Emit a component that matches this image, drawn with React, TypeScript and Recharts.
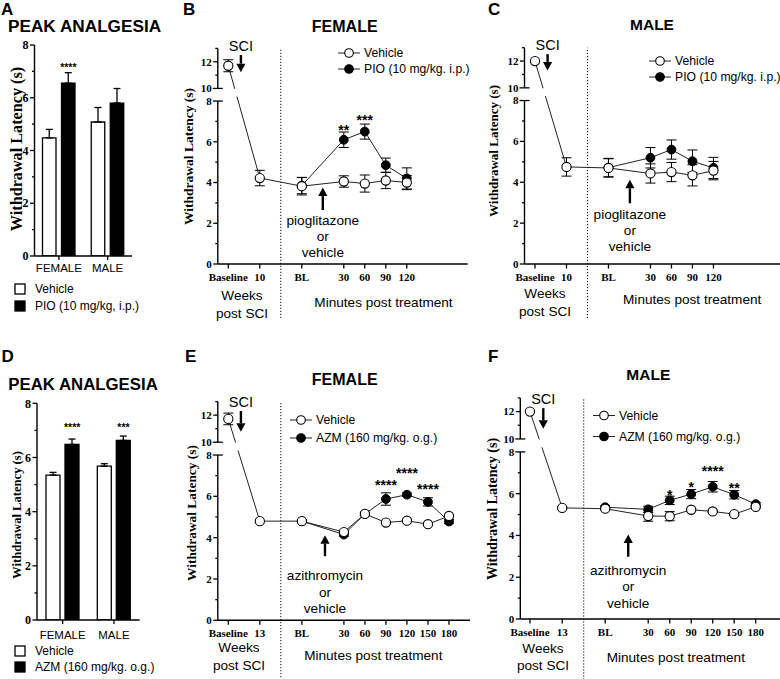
import React from 'react';
import {
  ComposedChart,
  LineChart,
  Bar,
  Line,
  XAxis,
  YAxis,
  ErrorBar,
  LabelList,
  Legend,
  ReferenceLine,
} from 'recharts';

const SANS = '"Liberation Sans", Arial, Helvetica, sans-serif';
const SERIF = '"Liberation Serif", "Times New Roman", Times, serif';
const INK = '#000';

// ---------------- Panel A: peak analgesia, pioglitazone ----------------
const sexCategories = ['FEMALE', 'MALE'];
const pioPeakVehicle = [4.48, 5.08];
const pioPeakVehicleErr = [0.32, 0.55];
const pioPeakDrug = [6.55, 5.8];
const pioPeakDrugErr = [0.4, 0.55];
const pioPeakStars = ['****', ''];
const pioPeakStarLevel = [7.25, null];

// ---------------- Panel D: peak analgesia, azithromycin ----------------
const azmPeakVehicle = [5.35, 5.68];
const azmPeakVehicleErr = [0.1, 0.09];
const azmPeakDrug = [6.48, 6.63];
const azmPeakDrugErr = [0.2, 0.16];
const azmPeakStars = ['****', '***'];
const azmPeakStarLevel = [7.21, 7.21];

// ---------------- time axes ----------------
const pioTimeLabels = ['Baseline', '10', 'BL', '30', '60', '90', '120'];
const pioTimeSlots = [0, 1.5, 3.5, 5.5, 6.5, 7.5, 8.5];
const azmTimeLabels = ['Baseline', '13', 'BL', '30', '60', '90', '120', '150', '180'];
const azmTimeSlots = [0, 1.5, 3.5, 5.5, 6.5, 7.5, 8.5, 9.5, 10.5];

// ---------------- Panel B: female, PIO ----------------
const pioFemaleVehicle = [11.7, 4.22, 3.82, 4.05, 3.95, 4.1, 4.0];
const pioFemaleVehicleErr = [0.45, 0.38, 0.43, 0.28, 0.42, 0.4, 0.35];
const pioFemaleDrug = [null, null, 3.85, 6.1, 6.5, 4.85, 4.2];
const pioFemaleDrugErr = [null, null, 0.4, 0.38, 0.37, 0.35, 0.52];
const pioFemaleStars = ['', '', '', '**', '***', '', ''];
const pioFemaleStarLevel = [null, null, null, 6.74, 7.22, null, null];

// ---------------- Panel C: male, PIO ----------------
const pioMaleVehicle = [12.0, 4.75, 4.7, 4.43, 4.5, 4.34, 4.57];
const pioMaleVehicleErr = [0, 0.45, 0.45, 0.47, 0.47, 0.52, 0.45];
const pioMaleDrug = [null, null, 4.72, 5.2, 5.6, 5.03, 4.7];
const pioMaleDrugErr = [null, null, 0.45, 0.5, 0.47, 0.55, 0.52];
const pioMaleStars = ['', '', '', '', '', '', ''];
const pioMaleStarLevel = [null, null, null, null, null, null, null];

// ---------------- Panel E: female, AZM ----------------
const azmFemaleVehicle = [11.72, 4.8, 4.8, 4.27, 5.15, 4.73, 4.82, 4.65, 5.05];
const azmFemaleVehicleErr = [0.43, 0, 0, 0.08, 0.05, 0.05, 0.05, 0.05, 0.05];
const azmFemaleDrug = [null, null, 4.8, 4.15, 5.15, 5.87, 6.08, 5.73, 4.78];
const azmFemaleDrugErr = [null, null, 0.05, 0.08, 0.08, 0.3, 0.08, 0.2, 0.1];
const azmFemaleStars = ['', '', '', '', '', '****', '****', '****', ''];
const azmFemaleStarLevel = [null, null, null, null, null, 6.71, 7.27, 6.5, null];

// ---------------- Panel F: male, AZM ----------------
const azmMaleVehicle = [12.0, 5.32, 5.28, 4.93, 4.92, 5.23, 5.15, 5.02, 5.37];
const azmMaleVehicleErr = [0, 0.05, 0.05, 0.25, 0.22, 0.05, 0.05, 0.05, 0.05];
const azmMaleDrug = [null, null, 5.35, 5.25, 5.68, 5.98, 6.33, 5.95, 5.5];
const azmMaleDrugErr = [null, null, 0.07, 0.15, 0.2, 0.22, 0.25, 0.2, 0.07];
const azmMaleStars = ['', '', '', '', '*', '*', '****', '**', ''];
const azmMaleStarLevel = [null, null, null, null, 6.09, 6.46, 7.21, 6.41, null];

// ---------------- broken y axis (0–8 | 10–13) ----------------
const GAP = 0.62;
const UPPER_K = 0.655;
const Y_TOP = 13;
const Y_TICKS = [0, 1, 2, 3, 4, 5, 6, 7, 8, 10, 11, 12, 13];
const LINE_BREAK_HI = 8.6; // axis units where the drawn line is interrupted
const LINE_BREAK_LO = 8.22;

function toAxis(v: number): number {
  if (v >= 10) return 8 + GAP + (v - 10) * UPPER_K;
  if (v > 8) return 8 + ((v - 8) / 2) * GAP;
  return v;
}
function fromAxis(t: number): number {
  if (t >= 8 + GAP - 1e-9) return 10 + (t - 8 - GAP) / UPPER_K;
  if (t > 8) return 8 + ((t - 8) / GAP) * 2;
  return t;
}
function errPair(v: number | null, e: number | null) {
  if (v == null || !e) return null;
  return [toAxis(v) - toAxis(v - e), toAxis(v + e) - toAxis(v)];
}

type Box = { left: number; top: number; width: number; height: number };
type Plot = { l: number; r: number; t: number; b: number };

function marginFor(box: Box, plot: Plot, yW: number, xH: number) {
  return {
    left: plot.l - box.left - yW,
    right: box.left + box.width - plot.r,
    top: plot.t - box.top,
    bottom: box.top + box.height - plot.b - xH,
  };
}

// ---------------- tick renderers ----------------
const BrokenYTick = (props: any) => {
  const { x, y, payload } = props;
  const v = Math.round(fromAxis(payload.value));
  const major = v % 2 === 0;
  const brk = v === 8 || v === 10;
  const len = brk ? 5 : major ? 4.5 : 2.5;
  return (
    <g>
      <line x1={x - len} x2={x + (brk ? 5 : 0)} y1={y} y2={y} stroke={INK} strokeWidth={1.3} />
      {major && (
        <text x={x - 6} y={y} dy="0.35em" textAnchor="end" fontFamily={SERIF} fontWeight="bold" fontSize={11} fill={INK}>
          {v}
        </text>
      )}
    </g>
  );
};

const PlainYTick = (props: any) => {
  const { x, y, payload } = props;
  const v = Math.round(payload.value);
  const major = v % 2 === 0;
  return (
    <g>
      <line x1={x - (major ? 4.5 : 2.5)} x2={x} y1={y} y2={y} stroke={INK} strokeWidth={1.3} />
      {major && (
        <text x={x - 6} y={y} dy="0.35em" textAnchor="end" fontFamily={SERIF} fontWeight="bold" fontSize={12} fill={INK}>
          {v}
        </text>
      )}
    </g>
  );
};

const makeTimeTick = (labels: string[], slots: number[]) => (props: any) => {
  const { x, y, payload } = props;
  const i = slots.findIndex((s) => Math.abs(s - payload.value) < 1e-6);
  return (
    <g>
      <line x1={x} x2={x} y1={y} y2={y + 4.5} stroke={INK} strokeWidth={1.3} />
      <text x={x} y={y + 17} textAnchor="middle" fontFamily={SERIF} fontWeight="bold" fontSize={11} fill={INK}>
        {i >= 0 ? labels[i] : ''}
      </text>
    </g>
  );
};

const makeSexTick = (dy: number) => (props: any) => {
  const { x, y, payload } = props;
  return (
    <g>
      <line x1={x} x2={x} y1={y} y2={y + 4} stroke={INK} strokeWidth={1.3} />
      <text x={x} y={y + dy} textAnchor="middle" fontFamily={SANS} fontSize={11.5} fill={INK}>
        {payload.value}
      </text>
    </g>
  );
};

const starContent = (fontSize: number, dx: number) => (p: any) => {
  const { x, y, value } = p;
  if (!value || y == null || x == null) return null;
  return (
    <text x={x + dx} y={y + fontSize * 0.575} textAnchor="middle" fontFamily={SANS} fontWeight="bold" fontSize={fontSize} fill={INK}>
      {value}
    </text>
  );
};

const arrowShape =
  (lines: string[], textPos: 'above' | 'below', dy0: number, lineH: number) => (p: any) => {
    const { x1, y1, x2, y2 } = p;
    if ([x1, y1, x2, y2].some((v) => v == null || Number.isNaN(v))) return <g />;
    const dir = Math.sign(y2 - y1) || 1;
    const head = 8.5;
    const hw = 4.6;
    const shaftEnd = y2 - dir * head;
    return (
      <g>
        <line x1={x1} y1={y1} x2={x1} y2={shaftEnd} stroke={INK} strokeWidth={2.4} />
        <polygon points={`${x2 - hw},${shaftEnd} ${x2 + hw},${shaftEnd} ${x2},${y2}`} fill={INK} />
        {lines.map((t, i) => (
          <text
            key={i}
            x={x1}
            y={textPos === 'above' ? y1 - dy0 - i * lineH : y1 + dy0 + i * lineH}
            textAnchor="middle"
            fontFamily={SANS}
            fontSize={textPos === 'above' ? 14.5 : 13.6}
            fill={INK}
          >
            {t}
          </text>
        ))}
      </g>
    );
  };

// connector from the pre-injury point (upper axis segment) to the first post-injury point,
// interrupted where the axis is broken
const brokenConnector = (sa: number, sb: number, trim: number) => (p: any) => {
  const { x1, y1, x2, y2 } = p;
  if ([x1, y1, x2, y2].some((v) => v == null || Number.isNaN(v))) return <g />;
  const dx = x2 - x1;
  const dy = y2 - y1;
  const len = Math.hypot(dx, dy) || 1;
  const ux = dx / len;
  const uy = dy / len;
  const ax = x1 + dx * sa;
  const ay = y1 + dy * sa;
  const bx = x1 + dx * sb;
  const by = y1 + dy * sb;
  return (
    <g>
      <line x1={x1 + ux * trim} y1={y1 + uy * trim} x2={ax} y2={ay} stroke="#222" strokeWidth={1} />
      <line x1={bx} y1={by} x2={x2 - ux * trim} y2={y2 - uy * trim} stroke="#222" strokeWidth={1} />
    </g>
  );
};

const lineLegend = (rowH: number, fontSize: number) => (props: any) => {
  const items = [...(props.payload || [])]
    .filter((it: any) => it.dataKey === 'veh' || it.dataKey === 'drug')
    .sort((a: any, b: any) => (a.dataKey === 'veh' ? -1 : 1) - (b.dataKey === 'veh' ? -1 : 1));
  return (
    <div style={{ fontFamily: SANS, fontSize, whiteSpace: 'nowrap', color: INK }}>
      {items.map((it: any) => (
        <div key={it.dataKey} style={{ display: 'flex', alignItems: 'center', height: rowH }}>
          <svg width={22} height={rowH} style={{ display: 'block' }}>
            <line x1={0} x2={22} y1={rowH / 2} y2={rowH / 2} stroke="#222" strokeWidth={1} />
            <circle cx={11} cy={rowH / 2} r={4.3} fill={it.dataKey === 'veh' ? '#fff' : INK} stroke={INK} strokeWidth={1.1} />
          </svg>
          <span style={{ marginLeft: 4 }}>{it.value}</span>
        </div>
      ))}
    </div>
  );
};

const barLegend = (rowH: number, fontSize: number) => (props: any) => {
  const items = [...(props.payload || [])]
    .filter((it: any) => it.dataKey === 'veh' || it.dataKey === 'drug')
    .sort((a: any, b: any) => (a.dataKey === 'veh' ? -1 : 1) - (b.dataKey === 'veh' ? -1 : 1));
  return (
    <div style={{ fontFamily: SANS, fontSize, whiteSpace: 'nowrap', color: INK }}>
      {items.map((it: any) => (
        <div key={it.dataKey} style={{ display: 'flex', alignItems: 'center', height: rowH }}>
          <svg width={12} height={12} style={{ display: 'block' }}>
            <rect x={1} y={1} width={10} height={10} fill={it.dataKey === 'veh' ? '#fff' : INK} stroke={INK} strokeWidth={1.3} />
          </svg>
          <span style={{ marginLeft: 9 }}>{it.value}</span>
        </div>
      ))}
    </div>
  );
};

// ---------------- bar panel ----------------
type PeakProps = {
  box: Box;
  plot: Plot;
  categories: string[];
  vehicle: number[];
  vehicleErr: number[];
  drug: number[];
  drugErr: number[];
  stars: string[];
  starLevels: (number | null)[];
  drugName: string;
  legendPos: { left: number; top: number; rowH: number };
  barSize: number;
  barGap: number;
  xLabelDy: number;
};

function PeakPanel(p: PeakProps) {
  const data = p.categories.map((c, i) => ({
    sex: c,
    veh: p.vehicle[i],
    vehErr: [0, p.vehicleErr[i]],
    drug: p.drug[i],
    drugErr: [0, p.drugErr[i]],
    stars: p.stars[i],
    starY: p.starLevels[i],
  }));
  const YW = 30;
  const XH = 25;
  return (
    <div style={{ position: 'absolute', left: p.box.left, top: p.box.top }}>
      <ComposedChart
        width={p.box.width}
        height={p.box.height}
        data={data}
        margin={marginFor(p.box, p.plot, YW, XH)}
        barGap={p.barGap}
        barSize={p.barSize}
      >
        <XAxis
          dataKey="sex"
          type="category"
          height={XH}
          tickSize={0}
          tickMargin={0}
          tickLine={false}
          interval={0}
          axisLine={{ stroke: INK, strokeWidth: 1.4 }}
          tick={makeSexTick(p.xLabelDy)}
        />
        <YAxis
          type="number"
          domain={[0, 8]}
          allowDataOverflow
          ticks={[0, 1, 2, 3, 4, 5, 6, 7, 8]}
          interval={0}
          width={YW}
          tickSize={0}
          tickMargin={0}
          tickLine={false}
          axisLine={{ stroke: INK, strokeWidth: 1.4 }}
          tick={PlainYTick}
        />
        <Bar dataKey="veh" name="Vehicle" fill="#fff" stroke={INK} strokeWidth={1.3} isAnimationActive={false}>
          <ErrorBar dataKey="vehErr" direction="y" width={3.5} stroke={INK} strokeWidth={1.3} />
        </Bar>
        <Bar dataKey="drug" name={p.drugName} fill={INK} stroke={INK} strokeWidth={1.3} isAnimationActive={false}>
          <ErrorBar dataKey="drugErr" direction="y" width={3.5} stroke={INK} strokeWidth={1.3} />
        </Bar>
        <Line dataKey="starY" stroke="none" dot={false} activeDot={false} legendType="none" isAnimationActive={false}>
          <LabelList dataKey="stars" content={starContent(10.5, (p.barSize + p.barGap) / 2)} />
        </Line>
        <Legend
          layout="vertical"
          align="center"
          verticalAlign="middle"
          wrapperStyle={{ left: p.legendPos.left, top: p.legendPos.top, width: 'auto', height: 'auto' }}
          content={barLegend(p.legendPos.rowH, 12)}
        />
      </ComposedChart>
    </div>
  );
}

// ---------------- time-course panel ----------------
type TCProps = {
  box: Box;
  plot: Plot;
  xDomain: [number, number];
  labels: string[];
  slots: number[];
  vehicle: number[];
  vehicleErr: number[];
  drug: (number | null)[];
  drugErr: (number | null)[];
  stars: string[];
  starLevels: (number | null)[];
  drugName: string;
  legendPos: { left: number; top: number; rowH: number };
  sci: { x: number; from: number; to: number };
  treat: { x: number; from: number; to: number; dy0: number; lineH: number };
  treatLines: string[];
  dottedBottom: number;
};

function TimeCourse(p: TCProps) {
  const data = p.slots.map((s, i) => ({
    slot: s,
    vehPre: i === 0 ? toAxis(p.vehicle[i]) : null,
    vehPreErr: i === 0 ? errPair(p.vehicle[i], p.vehicleErr[i]) : null,
    veh: i === 0 ? null : toAxis(p.vehicle[i]),
    vehErr: i === 0 ? null : errPair(p.vehicle[i], p.vehicleErr[i]),
    drug: p.drug[i] == null ? null : toAxis(p.drug[i] as number),
    drugErr: errPair(p.drug[i], p.drugErr[i]),
    stars: p.stars[i],
    starY: p.starLevels[i],
  }));
  const YW = 30;
  const XH = 25;
  const yTop = toAxis(Y_TOP);
  const x0 = p.xDomain[0];
  const t0 = toAxis(p.vehicle[0]);
  const t1 = toAxis(p.vehicle[1]);
  const sa = (t0 - LINE_BREAK_HI) / (t0 - t1);
  const sb = (t0 - LINE_BREAK_LO) / (t0 - t1);
  return (
    <div style={{ position: 'absolute', left: p.box.left, top: p.box.top }}>
      <LineChart width={p.box.width} height={p.box.height} data={data} margin={marginFor(p.box, p.plot, YW, XH)}>
        <XAxis
          type="number"
          dataKey="slot"
          domain={p.xDomain}
          allowDataOverflow
          ticks={p.slots}
          interval={0}
          height={XH}
          tickSize={0}
          tickMargin={0}
          tickLine={false}
          axisLine={{ stroke: INK, strokeWidth: 1.4 }}
          tick={makeTimeTick(p.labels, p.slots)}
        />
        <YAxis
          type="number"
          domain={[0, yTop]}
          allowDataOverflow
          ticks={Y_TICKS.map(toAxis)}
          interval={0}
          width={YW}
          tickSize={0}
          tickMargin={0}
          tickLine={false}
          axisLine={false}
          tick={BrokenYTick}
        />
        <ReferenceLine
          segment={[{ x: x0, y: 0 }, { x: x0, y: 8 }]}
          stroke={INK}
          strokeWidth={1.4}
          ifOverflow="visible"
        />
        <ReferenceLine
          segment={[{ x: x0, y: toAxis(10) }, { x: x0, y: yTop }]}
          stroke={INK}
          strokeWidth={1.4}
          ifOverflow="visible"
        />
        <ReferenceLine
          segment={[{ x: 2.5, y: p.dottedBottom }, { x: 2.5, y: yTop }]}
          stroke={INK}
          strokeWidth={1}
          strokeDasharray="1.2 1.8"
          ifOverflow="visible"
        />
        <ReferenceLine
          segment={[{ x: p.slots[0], y: t0 }, { x: p.slots[1], y: t1 }]}
          ifOverflow="visible"
          shape={brokenConnector(sa, sb, 4.6)}
        />
        <Line
          dataKey="drug"
          name={p.drugName}
          stroke="#222"
          strokeWidth={1}
          dot={{ r: 4.4, fill: INK, stroke: INK, strokeWidth: 1 }}
          activeDot={false}
          isAnimationActive={false}
        >
          <ErrorBar dataKey="drugErr" direction="y" width={5} stroke={INK} strokeWidth={1} />
        </Line>
        <Line
          dataKey="vehPre"
          name="Vehicle pre"
          legendType="none"
          stroke="#222"
          strokeWidth={1}
          dot={{ r: 4.6, fill: '#fff', stroke: INK, strokeWidth: 1.1 }}
          activeDot={false}
          isAnimationActive={false}
        >
          <ErrorBar dataKey="vehPreErr" direction="y" width={5} stroke={INK} strokeWidth={1} />
        </Line>
        <Line
          dataKey="veh"
          name="Vehicle"
          stroke="#222"
          strokeWidth={1}
          dot={{ r: 4.6, fill: '#fff', stroke: INK, strokeWidth: 1.1 }}
          activeDot={false}
          isAnimationActive={false}
        >
          <ErrorBar dataKey="vehErr" direction="y" width={5} stroke={INK} strokeWidth={1} />
        </Line>
        <Line dataKey="starY" stroke="none" dot={false} activeDot={false} legendType="none" isAnimationActive={false}>
          <LabelList dataKey="stars" content={starContent(14, 0)} />
        </Line>
        <ReferenceLine
          segment={[{ x: p.sci.x, y: toAxis(p.sci.from) }, { x: p.sci.x, y: toAxis(p.sci.to) }]}
          ifOverflow="visible"
          shape={arrowShape(['SCI'], 'above', 4.5, 16)}
        />
        <ReferenceLine
          segment={[{ x: p.treat.x, y: p.treat.from }, { x: p.treat.x, y: p.treat.to }]}
          ifOverflow="visible"
          shape={arrowShape(p.treatLines, 'below', p.treat.dy0, p.treat.lineH)}
        />
        <Legend
          layout="vertical"
          align="center"
          verticalAlign="middle"
          wrapperStyle={{ left: p.legendPos.left, top: p.legendPos.top, width: 'auto', height: 'auto' }}
          content={lineLegend(p.legendPos.rowH, 12.2)}
        />
      </LineChart>
    </div>
  );
}

const YLabel = ({ cx, cy, size }: { cx: number; cy: number; size: number }) => (
  <text
    transform={`translate(${cx},${cy}) rotate(-90)`}
    textAnchor="middle"
    dominantBaseline="central"
    fontFamily={SERIF}
    fontWeight="bold"
    fontSize={size}
    fill={INK}
  >
    Withdrawal Latency (s)
  </text>
);

export default function App() {
  return (
    <div style={{ position: 'absolute', left: 0, top: 0, width: 780, height: 679, background: '#fff', overflow: 'hidden' }}>
      <PeakPanel
        box={{ left: 0, top: 30, width: 145, height: 290 }}
        plot={{ l: 34.5, r: 132, t: 45, b: 256 }}
        categories={sexCategories}
        vehicle={pioPeakVehicle}
        vehicleErr={pioPeakVehicleErr}
        drug={pioPeakDrug}
        drugErr={pioPeakDrugErr}
        stars={pioPeakStars}
        starLevels={pioPeakStarLevel}
        drugName="PIO (10 mg/kg, i.p.)"
        legendPos={{ left: 14, top: 250, rowH: 17 }}
        barSize={13.5}
        barGap={5.5}
        xLabelDy={16}
      />
      <PeakPanel
        box={{ left: 0, top: 380, width: 150, height: 299 }}
        plot={{ l: 37, r: 139.6, t: 403.3, b: 620 }}
        categories={sexCategories}
        vehicle={azmPeakVehicle}
        vehicleErr={azmPeakVehicleErr}
        drug={azmPeakDrug}
        drugErr={azmPeakDrugErr}
        stars={azmPeakStars}
        starLevels={azmPeakStarLevel}
        drugName="AZM (160 mg/kg. o.g.)"
        legendPos={{ left: 14, top: 263, rowH: 16 }}
        barSize={14}
        barGap={5}
        xLabelDy={19}
      />
      <TimeCourse
        box={{ left: 130, top: 0, width: 342, height: 325 }}
        plot={{ l: 217.8, r: 467.7, t: 48.4, b: 264 }}
        xDomain={[-0.5, 11.4]}
        labels={pioTimeLabels}
        slots={pioTimeSlots}
        vehicle={pioFemaleVehicle}
        vehicleErr={pioFemaleVehicleErr}
        drug={pioFemaleDrug}
        drugErr={pioFemaleDrugErr}
        stars={pioFemaleStars}
        starLevels={pioFemaleStarLevel}
        drugName="PIO (10 mg/kg. i.p.)"
        legendPos={{ left: 208, top: 45, rowH: 16 }}
        sci={{ x: 0.6, from: 12.5, to: 11.22 }}
        treat={{ x: 4.5, from: 2.65, to: 3.75, dy0: 15, lineH: 16 }}
        treatLines={['pioglitazone', 'or', 'vehicle']}
        dottedBottom={-2.65}
      />
      <TimeCourse
        box={{ left: 450, top: 0, width: 330, height: 325 }}
        plot={{ l: 524.5, r: 780, t: 47.7, b: 264 }}
        xDomain={[-0.5, 11.67]}
        labels={pioTimeLabels}
        slots={pioTimeSlots}
        vehicle={pioMaleVehicle}
        vehicleErr={pioMaleVehicleErr}
        drug={pioMaleDrug}
        drugErr={pioMaleDrugErr}
        stars={pioMaleStars}
        starLevels={pioMaleStarLevel}
        drugName="PIO (10 mg/kg. i.p.)"
        legendPos={{ left: 199, top: 53, rowH: 16 }}
        sci={{ x: 0.6, from: 12.52, to: 11.3 }}
        treat={{ x: 4.52, from: 2.97, to: 4.12, dy0: 16, lineH: 16 }}
        treatLines={['pioglitazone', 'or', 'vehicle']}
        dottedBottom={-2.65}
      />
      <TimeCourse
        box={{ left: 130, top: 345, width: 342, height: 334 }}
        plot={{ l: 217.8, r: 470, t: 401.6, b: 620.3 }}
        xDomain={[-0.5, 11.5]}
        labels={azmTimeLabels}
        slots={azmTimeSlots}
        vehicle={azmFemaleVehicle}
        vehicleErr={azmFemaleVehicleErr}
        drug={azmFemaleDrug}
        drugErr={azmFemaleDrugErr}
        stars={azmFemaleStars}
        starLevels={azmFemaleStarLevel}
        drugName="AZM (160 mg/kg. o.g.)"
        legendPos={{ left: 160, top: 66, rowH: 18 }}
        sci={{ x: 0.6, from: 12.3, to: 10.78 }}
        treat={{ x: 4.6, from: 3.1, to: 4.12, dy0: 24, lineH: 16.3 }}
        treatLines={['azithromycin', 'or', 'vehicle']}
        dottedBottom={-2.9}
      />
      <TimeCourse
        box={{ left: 450, top: 345, width: 330, height: 334 }}
        plot={{ l: 520.3, r: 780, t: 397.9, b: 619 }}
        xDomain={[-0.45, 11.63]}
        labels={azmTimeLabels}
        slots={azmTimeSlots}
        vehicle={azmMaleVehicle}
        vehicleErr={azmMaleVehicleErr}
        drug={azmMaleDrug}
        drugErr={azmMaleDrugErr}
        stars={azmMaleStars}
        starLevels={azmMaleStarLevel}
        drugName="AZM (160 mg/kg. o.g.)"
        legendPos={{ left: 143, top: 60, rowH: 21 }}
        sci={{ x: 0.62, from: 12.25, to: 10.75 }}
        treat={{ x: 4.57, from: 2.98, to: 4.05, dy0: 18, lineH: 16.5 }}
        treatLines={['azithromycin', 'or', 'vehicle']}
        dottedBottom={-2.9}
      />

      <svg width={780} height={679} style={{ position: 'absolute', left: 0, top: 0, pointerEvents: 'none' }}>
        <g fontFamily={SANS} fontWeight="bold" fill={INK}>
          <text x={1} y={15} fontSize={17}>A</text>
          <text x={8} y={31.7} fontSize={17.2}>PEAK ANALGESIA</text>
          <text x={183} y={15} fontSize={17}>B</text>
          <text x={344.7} y={31.7} fontSize={16} textAnchor="middle">FEMALE</text>
          <text x={488} y={15} fontSize={17}>C</text>
          <text x={652} y={30} fontSize={15.5} textAnchor="middle">MALE</text>
          <text x={1.5} y={361.7} fontSize={17}>D</text>
          <text x={8.3} y={390} fontSize={16.8}>PEAK ANALGESIA</text>
          <text x={185} y={361.7} fontSize={17}>E</text>
          <text x={344.7} y={385} fontSize={16} textAnchor="middle">FEMALE</text>
          <text x={488} y={361.7} fontSize={17}>F</text>
          <text x={648.3} y={380} fontSize={15.5} textAnchor="middle">MALE</text>
        </g>
        <YLabel cx={16.7} cy={149} size={16.2} />
        <YLabel cx={16.7} cy={515} size={12.6} />
        <YLabel cx={188.3} cy={156.5} size={13.5} />
        <YLabel cx={493.3} cy={151} size={13} />
        <YLabel cx={191.7} cy={513} size={13.4} />
        <YLabel cx={492.7} cy={509} size={14} />
        <g fontFamily={SANS} fontSize={13.6} fill={INK} textAnchor="middle">
          <text x={242} y={300}>Weeks</text>
          <text x={242} y={318.3}>post SCI</text>
          <text x={383.5} y={306.7}>Minutes post treatment</text>
          <text x={545} y={298.3}>Weeks</text>
          <text x={545} y={315.7}>post SCI</text>
          <text x={692.2} y={304.3}>Minutes post treatment</text>
          <text x={239} y={651.7}>Weeks</text>
          <text x={239} y={670}>post SCI</text>
          <text x={373.3} y={660}>Minutes post treatment</text>
          <text x={543} y={653.3}>Weeks</text>
          <text x={543} y={670}>post SCI</text>
          <text x={675.8} y={661.7}>Minutes post treatment</text>
        </g>
      </svg>
    </div>
  );
}
